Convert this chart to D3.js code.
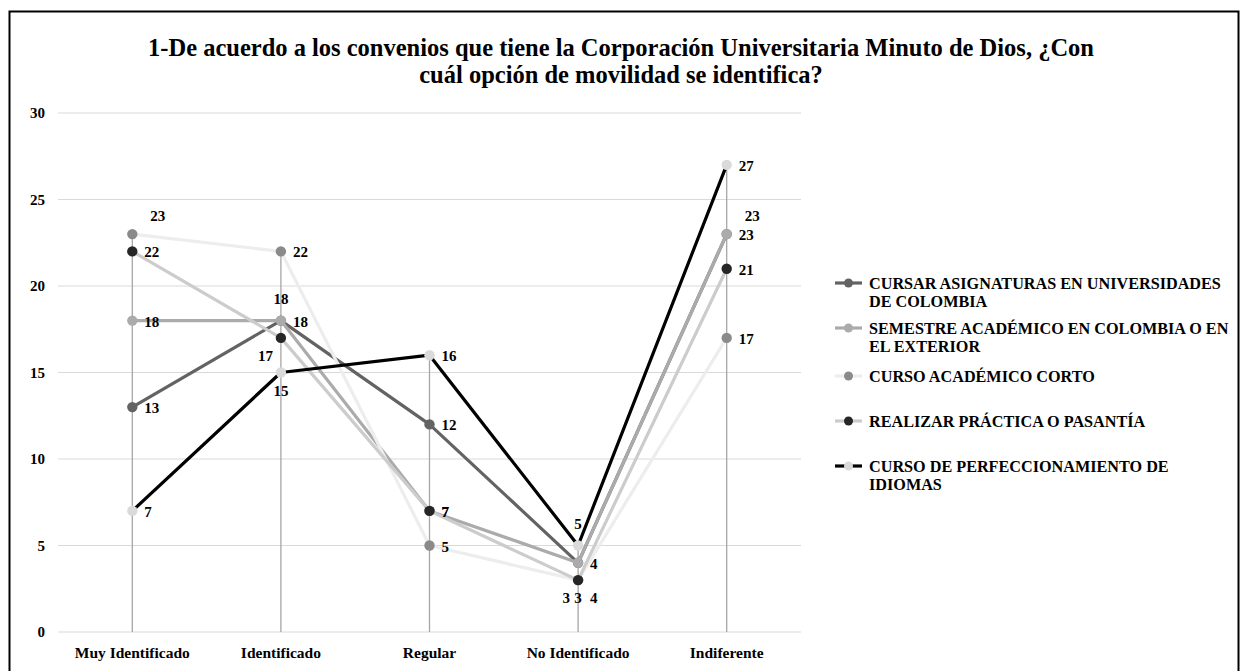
<!DOCTYPE html>
<html><head><meta charset="utf-8">
<script src="https://cdn.jsdelivr.net/npm/d3@7"></script>
<style>
body{margin:0;background:#fff;}
text{font-family:"Liberation Serif","Times New Roman",serif;font-weight:bold;}
</style></head>
<body><svg id="c" width="1244" height="671"></svg>
<script>
const categories = ["Muy Identificado","Identificado","Regular","No Identificado","Indiferente"];
const seriesNames = [
  ["CURSAR ASIGNATURAS EN UNIVERSIDADES","DE COLOMBIA"],
  ["SEMESTRE ACADÉMICO EN COLOMBIA O EN","EL EXTERIOR"],
  ["CURSO ACADÉMICO CORTO"],
  ["REALIZAR PRÁCTICA O PASANTÍA"],
  ["CURSO DE PERFECCIONAMIENTO DE","IDIOMAS"]
];
const cursarValues      = [13,18,12,4,23];
const semestreValues    = [18,18,7,4,23];
const cortoValues       = [23,22,5,3,17];
const practicaValues    = [22,17,7,3,21];
const idiomasValues     = [7,15,16,5,27];
const yTicks = [0,5,10,15,20,25,30];
const titleLines = ["1-De acuerdo a los convenios que tiene la Corporación Universitaria Minuto de Dios, ¿Con","cuál opción de movilidad se identifica?"];

// styles
const lineColors   = ["#636363","#ababab","#ededed","#cccccc","#000000"];
const markerColors = ["#636363","#ababab","#8a8a8a","#262626","#dadada"];
// label placement per series per category
const labelPlace = [
  ["r","t","r","r","tr"],
  ["r","r","r","bb","r"],
  ["tr","r","r","l","r"],
  ["r","l","r","b","r"],
  ["r","b","r","t","r"]
];

const allValues = [cursarValues,semestreValues,cortoValues,practicaValues,idiomasValues];
const svg = d3.select("#c");
svg.append("rect").attr("x",9.5).attr("y",11.5).attr("width",1229).attr("height",670)
  .attr("fill","#fff").attr("stroke","#000").attr("stroke-width",2);

const x = d3.scaleBand().domain(categories).range([58,801]);
const y = d3.scaleLinear().domain([0,30]).range([632,113]);

// title
svg.append("g").selectAll("text").data(titleLines).join("text")
  .attr("x",621).attr("y",(d,i)=>56+i*27).attr("text-anchor","middle")
  .attr("font-size",24.5).attr("fill","#000").text(d=>d);

// grid
svg.append("g").selectAll("line").data(yTicks).join("line")
  .attr("x1",58).attr("x2",801).attr("y1",d=>y(d)).attr("y2",d=>y(d))
  .attr("stroke","#d9d9d9").attr("stroke-width",1);

// y axis labels
const yAxis = d3.axisLeft(y).tickValues(yTicks).tickSize(0).tickPadding(0);
const yg = svg.append("g").attr("transform","translate(45,0)").call(yAxis);
yg.select(".domain").remove();
yg.selectAll("text").attr("font-size",15).attr("fill","#000").attr("font-family","Liberation Serif");

// x axis labels
const xAxis = d3.axisBottom(x).tickSize(0).tickPadding(0);
const xg = svg.append("g").attr("transform","translate(0,647)").call(xAxis);
xg.select(".domain").remove();
xg.selectAll("text").attr("font-size",15.5).attr("fill","#000").attr("font-family","Liberation Serif");

const cx = c => x(c) + x.bandwidth()/2;

// drop lines
svg.append("g").selectAll("line").data(categories).join("line")
  .attr("x1",cx).attr("x2",cx)
  .attr("y1",(c,i)=>y(d3.max(allValues,v=>v[i]))).attr("y2",y(0))
  .attr("stroke","#a6a6a6").attr("stroke-width",1.3);

// series
const line = d3.line().x((d,i)=>cx(categories[i])).y(d=>y(d));
allValues.forEach((vals,s)=>{
  const g = svg.append("g");
  g.append("path").attr("d",line(vals)).attr("fill","none")
    .attr("stroke",lineColors[s]).attr("stroke-width",3.2).attr("stroke-linejoin","round");
  g.selectAll("circle").data(vals).join("circle")
    .attr("cx",(d,i)=>cx(categories[i])).attr("cy",d=>y(d)).attr("r",5.2)
    .attr("fill",markerColors[s]);
});

// labels
const off = {r:[12,6,"start"],t:[0,-17,"middle"],tr:[18,-13,"start"],l:[-8,23,"end"],
             b:[0,23,"middle"],bb:[12,40,"start"]};
const offL = {l:[-10,26,"end"]};
allValues.forEach((vals,s)=>{
  svg.append("g").selectAll("text").data(vals).join("text")
    .attr("x",(d,i)=>cx(categories[i])+off[labelPlace[s][i]][0])
    .attr("y",(d,i)=>y(d)+off[labelPlace[s][i]][1])
    .attr("text-anchor",(d,i)=>off[labelPlace[s][i]][2])
    .attr("font-size",15).attr("fill","#000").text(d=>d);
});

// legend
const legendY = [283,328,376,421,466];
const lg = svg.append("g");
seriesNames.forEach((lines,s)=>{
  const g = lg.append("g").attr("transform",`translate(0,${legendY[s]})`);
  g.append("line").attr("x1",835).attr("x2",862).attr("y1",0).attr("y2",0)
    .attr("stroke",lineColors[s]).attr("stroke-width",3.2);
  g.append("circle").attr("cx",848.5).attr("cy",0).attr("r",4.5).attr("fill",markerColors[s]);
  g.selectAll("text").data(lines).join("text")
    .attr("x",869).attr("y",(d,i)=>6+i*18).attr("font-size",16.2).attr("fill","#000").text(d=>d);
});
</script></body></html>
